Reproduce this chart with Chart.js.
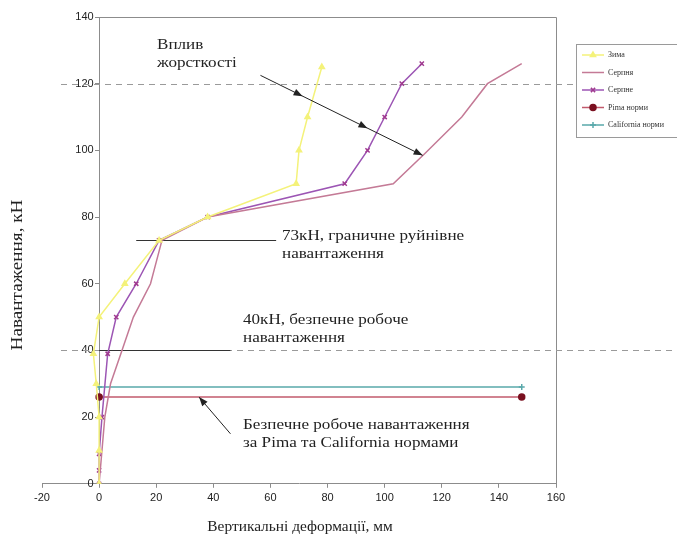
<!DOCTYPE html>
<html>
<head>
<meta charset="utf-8">
<script src="https://cdn.jsdelivr.net/npm/chart.js@4.4.1/dist/chart.umd.min.js"></script>
<style>
  html, body { margin: 0; padding: 0; background: #fff; }
</style>
</head>
<body>
<canvas id="chart" width="677" height="540"></canvas>
<script>
// series values
var zymaX     = [0, 0, 0, -1, -2, 0, 9, 21, 38, 69, 70, 73, 78];
var zymaY     = [0, 10, 20, 30, 39, 50, 60, 73, 80, 90, 100, 110, 125];
var serpnyaX  = [0, 1, 2, 4, 8, 12, 18, 22, 38, 103, 114, 127, 136, 148];
var serpnyaY  = [0, 10, 20, 30, 40, 50, 60, 73, 80, 90, 99, 110, 120, 126];
var serpneX   = [0, 0, 0, 1, 3, 6, 13, 21, 38, 86, 94, 100, 106, 113];
var serpneY   = [0, 4, 9, 20, 39, 50, 60, 73, 80, 90, 100, 110, 120, 126];
var pimaX     = [0, 148];
var pimaY     = [26, 26];
var califX    = [0, 148];
var califY    = [29, 29];
var seriesNames = ['Зима', 'Серпня', 'Серпне', 'Pima норми', 'California норми'];

// axes
var xMin = -20, xMax = 160, xStep = 20;
var yMin = 0, yMax = 140, yStep = 20;

function pts(xs, ys) {
  return xs.map(function (x, i) { return { x: x, y: ys[i] }; });
}

var serif = '"Liberation Serif", "DejaVu Serif", serif';

var datasets = [
  { label: seriesNames[0], data: pts(zymaX, zymaY), borderColor: '#f4f27a', backgroundColor: '#f4f27a',
    pointStyle: 'triangle', pointRadius: 3, borderWidth: 1.5 },
  { label: seriesNames[1], data: pts(serpnyaX, serpnyaY), borderColor: '#c47a96', backgroundColor: '#c47a96',
    pointRadius: 0, borderWidth: 1.5 },
  { label: seriesNames[2], data: pts(serpneX, serpneY), borderColor: '#9c55b4', backgroundColor: '#b0409a',
    pointStyle: 'crossRot', pointRadius: 3, pointBorderColor: '#a03a90', borderWidth: 1.5 },
  { label: seriesNames[3], data: pts(pimaX, pimaY), borderColor: '#c25a6c', backgroundColor: '#7a1020',
    pointStyle: 'circle', pointRadius: 3, pointBorderColor: '#7a1020', borderWidth: 1.5 },
  { label: seriesNames[4], data: pts(califX, califY), borderColor: '#58a8aa', backgroundColor: '#58a8aa',
    pointStyle: 'cross', pointRadius: 3, borderWidth: 1.5 }
];

function drawArrowHead(ctx, x1, y1, x2, y2, len, half) {
  var a = Math.atan2(y2 - y1, x2 - x1);
  ctx.beginPath();
  ctx.moveTo(x2, y2);
  ctx.lineTo(x2 - len * Math.cos(a) + half * Math.sin(a), y2 - len * Math.sin(a) - half * Math.cos(a));
  ctx.lineTo(x2 - len * Math.cos(a) - half * Math.sin(a), y2 - len * Math.sin(a) + half * Math.cos(a));
  ctx.closePath();
  ctx.fill();
}

// text a little wider than the font gives, like the scanned original
function wideText(ctx, str, x, y, size, stretch) {
  ctx.save();
  ctx.translate(x, y);
  ctx.scale(stretch, 1);
  ctx.font = size + 'px ' + serif;
  ctx.fillText(str, 0, 0);
  ctx.restore();
}

var notes = {
  id: 'notes',
  beforeDatasetsDraw: function (chart) {
    var ctx = chart.ctx, sx = chart.scales.x, sy = chart.scales.y;
    ctx.save();
    // plot frame: top and right
    ctx.strokeStyle = '#8c8c8c';
    ctx.lineWidth = 1;
    ctx.beginPath();
    ctx.moveTo(sx.getPixelForValue(0), sy.getPixelForValue(yMax) + 0.5);
    ctx.lineTo(sx.getPixelForValue(xMax) + 0.5, sy.getPixelForValue(yMax) + 0.5);
    ctx.lineTo(sx.getPixelForValue(xMax) + 0.5, sy.getPixelForValue(0));
    ctx.stroke();
    // dashed reference lines
    ctx.strokeStyle = '#9a9a9a';
    ctx.setLineDash([6, 5]);
    [120, 40].forEach(function (v) {
      var y = Math.round(sy.getPixelForValue(v)) + 0.5;
      ctx.beginPath();
      ctx.moveTo(61, y);
      ctx.lineTo(677, y);
      ctx.stroke();
    });
    ctx.setLineDash([]);
    // solid marker lines at 73 and 40 kN
    ctx.strokeStyle = '#333';
    ctx.beginPath();
    ctx.moveTo(sx.getPixelForValue(13), Math.round(sy.getPixelForValue(73)) + 0.5);
    ctx.lineTo(sx.getPixelForValue(62), Math.round(sy.getPixelForValue(73)) + 0.5);
    ctx.moveTo(sx.getPixelForValue(0), Math.round(sy.getPixelForValue(40)) + 0.5);
    ctx.lineTo(sx.getPixelForValue(46), Math.round(sy.getPixelForValue(40)) + 0.5);
    ctx.stroke();
    ctx.restore();
  },
  afterDatasetsDraw: function (chart) {
    var ctx = chart.ctx, sx = chart.scales.x, sy = chart.scales.y;
    ctx.save();
    ctx.strokeStyle = '#222';
    ctx.fillStyle = '#222';
    ctx.lineWidth = 1;
    // "Вплив жорсткості" arrow with three heads
    var ax1 = sx.getPixelForValue(56.5), ay1 = sy.getPixelForValue(122.5);
    var ax2 = sx.getPixelForValue(113.3), ay2 = sy.getPixelForValue(98.5);
    ctx.beginPath(); ctx.moveTo(ax1, ay1); ctx.lineTo(ax2, ay2); ctx.stroke();
    [0.26, 0.66, 1].forEach(function (t) {
      drawArrowHead(ctx, ax1, ay1, ax1 + (ax2 - ax1) * t, ay1 + (ay2 - ay1) * t, 9, 3.5);
    });
    // arrow to the Pima / California lines
    var bx1 = sx.getPixelForValue(46), by1 = sy.getPixelForValue(15);
    var bx2 = sx.getPixelForValue(35), by2 = sy.getPixelForValue(26);
    ctx.beginPath(); ctx.moveTo(bx1, by1); ctx.lineTo(bx2, by2); ctx.stroke();
    drawArrowHead(ctx, bx1, by1, bx2, by2, 9, 3.5);

    // text notes
    ctx.fillStyle = '#222';
    ctx.textAlign = 'left';
    ctx.textBaseline = 'middle';
    wideText(ctx, 'Вплив', 157, 45, 15, 1.14);
    wideText(ctx, 'жорсткості', 157, 63, 15, 1.14);
    wideText(ctx, '73кН, граничне руйнівне', 282, 236, 15, 1.14);
    wideText(ctx, 'навантаження', 282, 254, 15, 1.14);
    wideText(ctx, '40кН, безпечне робоче', 243, 320, 15, 1.14);
    wideText(ctx, 'навантаження', 243, 338, 15, 1.14);
    wideText(ctx, 'Безпечне робоче навантаження', 243, 425, 15, 1.14);
    wideText(ctx, 'за Pima та California нормами', 243, 443, 15, 1.14);

    // axis titles
    ctx.textAlign = 'center';
    wideText(ctx, 'Вертикальні деформації, мм', 300, 527, 14, 1.1);
    ctx.save();
    ctx.translate(18, 275);
    ctx.rotate(-Math.PI / 2);
    wideText(ctx, 'Навантаження, кН', 0, 0, 16, 1.2);
    ctx.restore();

    // legend box
    ctx.fillStyle = '#fff';
    ctx.strokeStyle = '#9a9a9a';
    ctx.fillRect(576, 44, 110, 93);
    ctx.strokeRect(576.5, 44.5, 110, 93);
    ctx.font = '8px ' + serif;
    ctx.textAlign = 'left';
    chart.data.datasets.forEach(function (ds, i) {
      var y = 55 + i * 17.5;
      ctx.strokeStyle = ds.borderColor;
      ctx.lineWidth = 1.5;
      ctx.beginPath(); ctx.moveTo(582, y); ctx.lineTo(604, y); ctx.stroke();
      if (ds.pointRadius > 0) {
        ctx.strokeStyle = ds.pointBorderColor || ds.borderColor;
        ctx.fillStyle = ds.backgroundColor;
        Chart.helpers.drawPoint(ctx, { pointStyle: ds.pointStyle, radius: 3, rotation: 0, borderWidth: 1 }, 593, y);
      }
      ctx.fillStyle = '#333';
      ctx.fillText(ds.label, 608, y);
    });
    ctx.restore();
  }
};

new Chart(document.getElementById('chart').getContext('2d'), {
  type: 'scatter',
  data: { datasets: datasets },
  options: {
    responsive: false,
    animation: false,
    showLine: true,
    layout: { padding: { left: 42, right: 121, top: 17, bottom: 31 } },
    plugins: { legend: { display: false }, tooltip: { enabled: false } },
    elements: { line: { tension: 0 } },
    scales: {
      x: {
        type: 'linear', position: 'bottom', min: xMin, max: xMax,
        ticks: { stepSize: xStep, color: '#222', padding: 4, font: { family: '"Liberation Sans", Arial', size: 11 } },
        grid: { display: true, drawOnChartArea: false, drawTicks: true, tickLength: 4, color: '#8c8c8c' },
        border: { display: true, color: '#8c8c8c' }
      },
      y: {
        type: 'linear', position: { x: 0 }, min: yMin, max: yMax,
        ticks: {
          stepSize: yStep, color: '#222', font: { family: '"Liberation Sans", Arial', size: 11 },
          // axis sits at x = 0, so keep a small gap between label and axis line
          callback: function (v) { return v + '\u2002'; }
        },
        grid: { display: true, drawOnChartArea: false, drawTicks: true, tickLength: 4, color: '#8c8c8c' },
        border: { display: true, color: '#8c8c8c' }
      }
    }
  },
  plugins: [notes]
});
</script>
</body>
</html>
